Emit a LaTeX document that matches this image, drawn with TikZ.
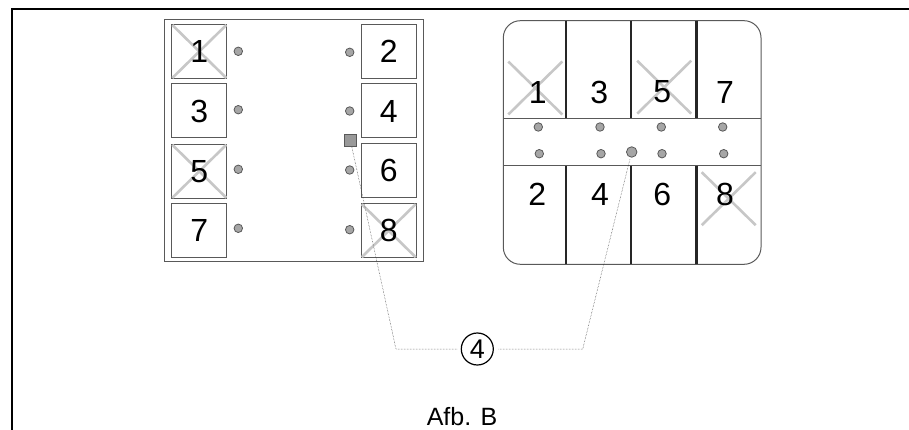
\documentclass[tikz,border=0pt]{standalone}
\usepackage{fontspec}
\setmainfont{Liberation Sans}
\usepackage{tikz}

\tikzset{
	digit/.style={inner sep=0pt, font=\fontsize{32}{32}\selectfont},
	outline/.style={black!65, line width=1pt},
	led/.style={circle, draw=black!65, fill=black!35, line width=0.8pt, minimum size=8.5pt, inner sep=0pt},
	strike/.style={black!22, line width=2.6pt},
	leader/.style={black!75, line width=0.5pt, densely dotted},
	divider/.style={black!85, line width=2.4pt},
}

\begin{document}
\begin{tikzpicture}[x=1pt,y=-1pt]
		\useasboundingbox (0,0) rectangle (909,430);
		% page frame
		\draw[line width=2pt] (12,430) -- (12,9) -- (909,9);
		
		% left unit
		\draw[outline] (164.3,20) rectangle (423,261.7);
		\foreach \n/\x/\y in {1/199.3/51.5, 3/199.3/111, 5/199.3/171.3, 7/199.3/230.3, 2/388.7/51.3, 4/388.7/111, 6/388.7/170.5, 8/388.7/230.7}{
			\draw[outline] (\x-27.5,\y-27) rectangle (\x+27.5,\y+27);
		}
		\foreach \x/\y in {199.3/51.5, 199.3/171.3, 388.7/230.7}{
			\draw[strike] (\x-27,\y-26.5) -- (\x+27,\y+26.5);
			\draw[strike] (\x-27,\y+26.5) -- (\x+27,\y-26.5);
		}
		\foreach \n/\x/\y in {1/199.3/51.5, 3/199.3/111, 5/199.3/171.3, 7/199.3/230.3, 2/388.7/51.3, 4/388.7/111, 6/388.7/170.5, 8/388.7/230.7}{
			\node[digit] (left\n) at (\x,\y) {\n};
		}
		\foreach \x/\y in {238.3/51.3, 238.3/109.7, 238.3/169.3, 238.3/228.3, 349.7/52.3, 349.7/111, 349.7/170, 349.7/229.7}{
			\node[led] at (\x,\y) {};
		}
		\node[draw=black!65, fill=black!40, line width=0.8pt, minimum size=12pt, inner sep=0pt] (port) at (350.3,140) {};
		
		% right unit
		\draw[outline, rounded corners=17pt] (503.3,20.7) rectangle (761,264.3);
		\draw[outline] (503.3,118.3) -- (761,118.3);
		\draw[outline] (503.3,165.7) -- (761,165.7);
		\foreach \x in {565.7,631,696.3}{
			\draw[divider] (\x,20.7) -- (\x,118.3);
			\draw[divider] (\x,165.7) -- (\x,264.3);
		}
		\foreach \x/\y in {535.3/88, 664.2/87.2, 728.7/198.7}{
			\draw[strike] (\x-27,\y-26.5) -- (\x+27,\y+26.5);
			\draw[strike] (\x-27,\y+26.5) -- (\x+27,\y-26.5);
		}
		\foreach \n/\x/\y in {1/537.7/92, 3/599.3/92, 5/662.3/92, 7/725/92, 2/537.3/194, 4/600/194, 6/662.3/194, 8/725/194}{
			\node[digit] (right\n) at (\x,\y) {\n};
		}
		\foreach \x/\y in {538.3/127, 600/127, 661.3/127, 722.7/127, 539.3/153.7, 601/153.7, 662/153.7, 723.7/153.7}{
			\node[led] at (\x,\y) {};
		}
		\node[led, minimum size=10.5pt] (socket) at (631.7,152) {};
		
		% callout
		\node[circle, draw, line width=1.2pt, minimum size=32pt, inner sep=0pt, font=\fontsize{27}{27}\selectfont] (callout) at (477.3,349) {4};
		\coordinate (kneeL) at (396,349);
		\coordinate (kneeR) at (582.7,349);
		\draw[leader, shorten <=1pt, shorten >=3pt] (port) -- (kneeL) -- (callout);
		\draw[leader, shorten <=2pt, shorten >=4pt] (socket) -- (kneeR) -- (callout);
		
		\node[font=\fontsize{25}{25}\selectfont, inner sep=0pt, anchor=base] (caption) at (462,425) {Afb. B};
	\end{tikzpicture}
\end{document}
